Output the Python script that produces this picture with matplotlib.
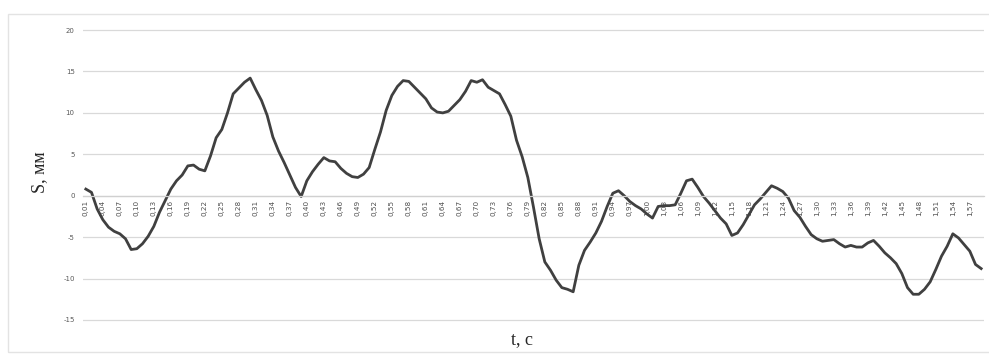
import numpy as np
import matplotlib
matplotlib.use("Agg")
from matplotlib import pyplot as plt
from matplotlib.patches import Rectangle

# time samples, c (step 0.01)
t = np.round(np.arange(1, 160) * 0.01, 2)

# displacement S, mm
s = [0.8, 0.4, -1.6, -2.9, -3.8, -4.3, -4.6, -5.2, -6.5, -6.4,
     -5.8, -4.9, -3.7, -2.0, -0.6, 0.8, 1.8, 2.5, 3.6, 3.7,
     3.2, 3.0, 4.8, 7.0, 8.0, 10.0, 12.3, 13.0, 13.7, 14.2,
     12.8, 11.5, 9.7, 7.1, 5.4, 4.0, 2.5, 1.0, -0.1, 1.8,
     2.9, 3.8, 4.6, 4.2, 4.1, 3.3, 2.7, 2.3, 2.2, 2.6,
     3.4, 5.6, 7.7, 10.3, 12.1, 13.2, 13.9, 13.8, 13.1, 12.4,
     11.7, 10.6, 10.1, 10.0, 10.2, 10.9, 11.6, 12.6, 13.9, 13.7,
     14.0, 13.1, 12.7, 12.3, 11.0, 9.6, 6.7, 4.7, 2.2, -1.4,
     -5.2, -8.0, -9.0, -10.2, -11.1, -11.3, -11.6, -8.4, -6.6, -5.6,
     -4.5, -3.1, -1.3, 0.3, 0.6, 0.0, -0.7, -1.2, -1.6, -2.2,
     -2.7, -1.3, -1.2, -1.2, -1.1, 0.3, 1.8, 2.0, 1.0, -0.1,
     -0.9, -1.8, -2.7, -3.4, -4.8, -4.5, -3.5, -2.3, -1.1, -0.4,
     0.4, 1.2, 0.9, 0.5, -0.3, -1.8, -2.6, -3.7, -4.7, -5.2,
     -5.5, -5.4, -5.3, -5.8, -6.2, -6.0, -6.2, -6.2, -5.7, -5.4,
     -6.1, -6.9, -7.5, -8.2, -9.4, -11.1, -11.9, -11.9, -11.3, -10.4,
     -8.9, -7.3, -6.1, -4.6, -5.1, -5.9, -6.7, -8.3, -8.8]

y_ticks = [-15, -10, -5, 0, 5, 10, 15, 20]

SERIF = "Liberation Serif"
GRID = "#d9d9d9"

fig = plt.figure(figsize=(9.89, 3.56), dpi=100)
fig.patches.append(Rectangle((8 / 989, 0.01), 0.995, 0.95, transform=fig.transFigure,
                             fill=False, edgecolor="#e3e3e3", linewidth=1.0))

ax = fig.add_axes([83 / 989, 1 - 322 / 356, 901 / 989, 294 / 356])

# horizontal axis crosses at zero; set before the ticks since it resets them
ax.spines["bottom"].set_position(("data", 0))
ax.spines["bottom"].set_color("#d0d0d0")
ax.spines["bottom"].set_linewidth(0.9)
for side in ("top", "right", "left"):
    ax.spines[side].set_visible(False)

x = np.arange(len(s))
ax.plot(x, s, color="#404040", linewidth=2.0, solid_joinstyle="round")

ax.set_xlim(-0.5, len(s) - 0.5)
ax.set_ylim(-15.25, 20.25)
ax.set_yticks(y_ticks)
ax.set_yticklabels([str(v) for v in y_ticks], fontsize=5, color="#595959")
ax.yaxis.grid(True, color=GRID, linewidth=0.9)
ax.set_axisbelow(True)

# category labels every third sample, sitting under the zero line
ax.set_xticks(x[::3])
ax.set_xticklabels([f"{v:.2f}".replace(".", ",") for v in t[::3]],
                   rotation=90, fontsize=5.2, color="#4d4d4d")
ax.tick_params(axis="y", length=0, pad=6)
ax.tick_params(axis="x", length=0, pad=3)

fig.text(40 / 989, 1 - 172 / 356, "S, мм", rotation=90, ha="center", va="center",
         fontsize=13, family=SERIF, color="#262626")
fig.text(522 / 989, 1 - 340 / 356, "t, c", ha="center", va="center",
         fontsize=13, family=SERIF, color="#262626")

fig.savefig("out.png", dpi=100)
